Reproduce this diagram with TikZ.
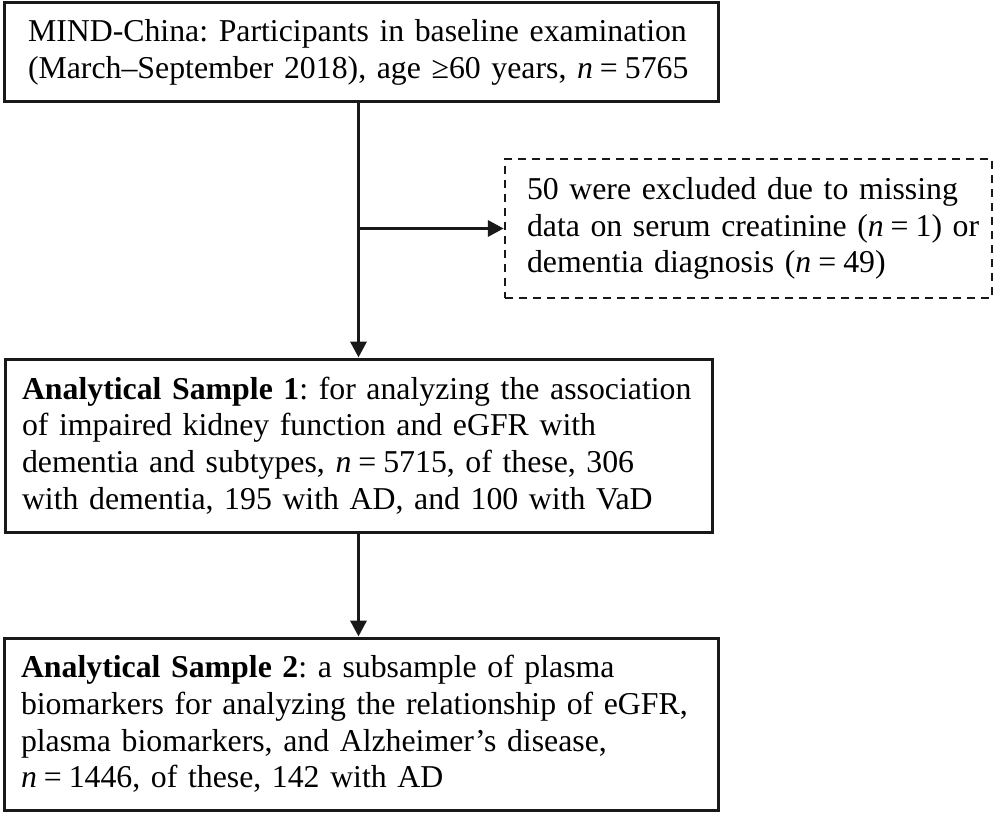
\documentclass[tikz,border=0pt]{standalone}
\usepackage{fontspec}
\setmainfont{Liberation Serif}
\usetikzlibrary{arrows.meta,calc}
\newcommand{\nval}[1]{\textit{n}\hspace{0.22em}=\hspace{0.22em}#1}
\begin{document}
\frenchspacing
\begin{tikzpicture}[x=1pt,y=-1pt,
  box/.style={draw=black!90, line width=3pt, align=left, inner ysep=0pt,
    font=\fontsize{31.8}{36.7}\selectfont\frenchspacing},
  dbox/.style={box, line width=2.5pt, dash pattern=on 8pt off 6pt},
  conn/.style={draw=black!90, line width=3.5pt, -{Triangle[length=16pt,width=16pt]}}]
\useasboundingbox (0,0) rectangle (996,813);
\node[box, inner xsep=24pt, text width=666pt, minimum height=99pt] (b1) at (361,52.5)
  {\mbox{MIND-China: Participants in baseline examination}\\\mbox{(March--September 2018), age ≥60 years, \nval{5765}}};
\node[dbox, inner xsep=22pt, text width=443pt, minimum height=139pt] (ex) at (748.5,228.5)
  {\mbox{50 were excluded due to missing}\\\mbox{data on serum creatinine (\nval{1}) or}\\\mbox{dementia diagnosis (\nval{49})}};
\node[box, inner xsep=17pt, text width=673pt, minimum height=173pt] (b2) at (358.5,445.5)
  {\mbox{\textbf{Analytical Sample 1}: for analyzing the association}\\\mbox{of impaired kidney function and eGFR with}\\\mbox{dementia and subtypes, \nval{5715}, of these, 306}\\\mbox{with dementia, 195 with AD, and 100 with VaD}};
\node[box, inner xsep=17pt, text width=680pt, minimum height=172pt] (b3) at (361,724)
  {\mbox{\textbf{Analytical Sample 2}: a subsample of plasma}\\\mbox{biomarkers for analyzing the relationship of eGFR,}\\\mbox{plasma biomarkers, and Alzheimer’s disease,}\\\mbox{\nval{1446}, of these, 142 with AD}};
\coordinate (j) at (ex.west -| b2.north);
\draw[conn] (b1.south -| b2.north) -- (b2.north);
\draw[conn] (j) -- (ex.west);
\draw[conn] (b2.south) -- (b3.north -| b2.south);
\end{tikzpicture}
\end{document}
